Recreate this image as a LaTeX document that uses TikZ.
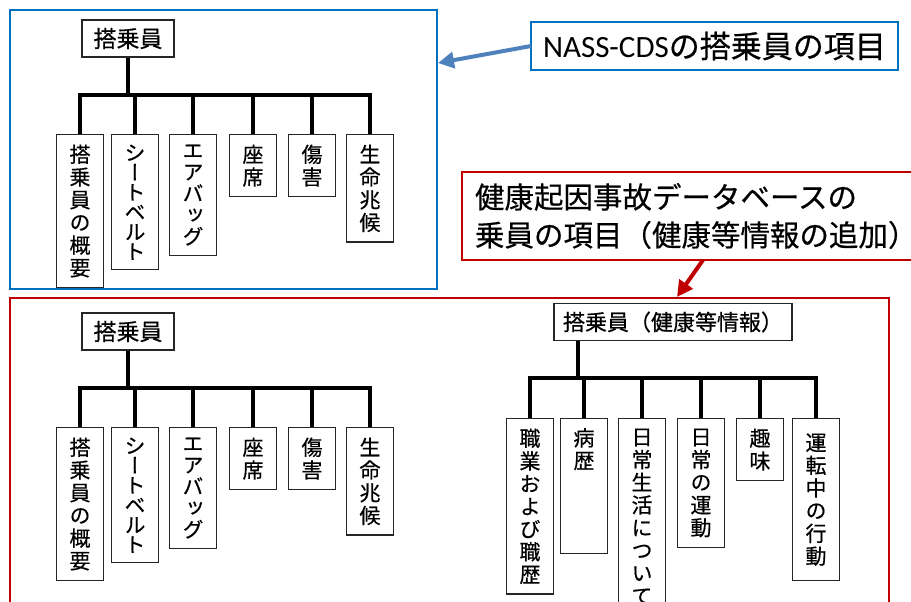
\documentclass[tikz,border=0pt]{standalone}
\usepackage{fontspec}
\setmainfont{Noto Sans CJK JP}[FakeBold=0.5]
\newfontfamily\jpvert{Noto Sans CJK JP}[RawFeature=+vert, FakeBold=0.5]
\newfontfamily\latfont{Carlito}
\usetikzlibrary{arrows.meta}
\definecolor{nassblue}{RGB}{0,112,192}
\definecolor{arrowblue}{RGB}{79,129,189}
\definecolor{dbred}{RGB}{192,0,0}

\begin{document}
\begin{tikzpicture}[x=1pt, y=-1pt]
    % ================= 样式定义 =================
    \tikzset{
        % 外框
        frame/.style={line width=2.5pt, outer sep=0pt},
        % 说明框
        callout/.style={draw, line width=2.5pt, outer sep=0pt, fill=white},
        % 根节点:横排文字
        rootbox/.style={draw=black!85, line width=1.2pt, minimum width=92pt, minimum height=37pt, inner xsep=4pt, font=\fontsize{23}{26}\selectfont},
        % 竖排文字
        leaftext/.style={align=center, inner xsep=0pt, inner ysep=10pt, font=\jpvert\fontsize{21}{22.7}\selectfont},
        % 叶节点:竖排的方框
        leaf/.style={leaftext, draw=black!85, line width=1.2pt, anchor=north, minimum width=47pt},
        % 片假名行距稍紧
        kana/.style={font=\jpvert\fontsize{21}{#1}\selectfont},
        % 树的连线
        branch/.style={line width=4pt, black},
        % 指示箭头
        pointer/.style={line width=4pt, -{Triangle[length=16pt, width=16pt]}}
    }

    \useasboundingbox (0,0) rectangle (911,602);
    \clip (0,0) rectangle (911,602);

    % ================= 外框 =================
    \node[frame, draw=nassblue, minimum width=427pt, minimum height=279pt, anchor=north west] (nassframe) at (10,10) {};
    \node[frame, draw=dbred, minimum width=879pt, minimum height=342pt, anchor=north west] (dbframe) at (10,298) {};

    % ================= 说明框与箭头 =================
    \node[callout, draw=nassblue, minimum width=367pt, minimum height=48pt, font=\fontsize{31}{38}\selectfont] (nasstitle) at (714.5,46) {{\latfont NASS-CDS}の搭乗員の項目};
    \coordinate (nasstip) at (438,63);
    \draw[pointer, arrowblue] (nasstitle.west) -- (nasstip);

    \node[callout, draw=dbred, align=left, anchor=north west, inner xsep=13pt, inner ysep=11pt, font=\fontsize{29.5}{38}\selectfont] (dbtitle) at (462,172) {健康起因事故データベースの\\乗員の項目（健康等情報の追加）};
    \coordinate (dbtip) at (677,297);
    \draw[pointer, dbred] (dbtitle.south -| 703,0) -- (dbtip);

    % ================= 第一部分:NASS-CDS (上) =================
    \begin{scope}
        \node[rootbox] (roota) at (128,38.5) {搭乗員};
        \coordinate (bara) at (128,95);

        \node[leaf] (a1) at (80,134) {搭\\乗\\員\\の\\概\\要};
        \node[leaf, kana=19.8] (a2) at (135,134) {シ\\ー\\ト\\ベ\\ル\\ト};
        \node[leaf, kana=21.5] (a3) at (193,134) {エ\\ア\\バ\\ッ\\グ};
        \node[leaf] (a4) at (253,134) {座\\席};
        \node[leaf] (a5) at (312,134) {傷\\害};
        \node[leaf] (a6) at (370,134) {生\\命\\兆\\候};

        % 连线
        \draw[branch] (roota) -- (bara);
        \draw[branch] (a1.north) |- (a6.north |- bara) -- (a6.north);
        \draw[branch] (a2.north |- bara) -- (a2.north);
        \draw[branch] (a3.north |- bara) -- (a3.north);
        \draw[branch] (a4.north |- bara) -- (a4.north);
        \draw[branch] (a5.north |- bara) -- (a5.north);
    \end{scope}

    % ================= 第二部分:数据库 (左下) =================
    \begin{scope}[shift={(0,293)}]
        \node[rootbox] (rootb) at (128,38.5) {搭乗員};
        \coordinate (barb) at (128,95);

        \node[leaf] (b1) at (80,134) {搭\\乗\\員\\の\\概\\要};
        \node[leaf, kana=19.8] (b2) at (135,134) {シ\\ー\\ト\\ベ\\ル\\ト};
        \node[leaf, kana=21.5] (b3) at (193,134) {エ\\ア\\バ\\ッ\\グ};
        \node[leaf] (b4) at (253,134) {座\\席};
        \node[leaf] (b5) at (312,134) {傷\\害};
        \node[leaf] (b6) at (370,134) {生\\命\\兆\\候};

        % 连线
        \draw[branch] (rootb) -- (barb);
        \draw[branch] (b1.north) |- (b6.north |- barb) -- (b6.north);
        \draw[branch] (b2.north |- barb) -- (b2.north);
        \draw[branch] (b3.north |- barb) -- (b3.north);
        \draw[branch] (b4.north |- barb) -- (b4.north);
        \draw[branch] (b5.north |- barb) -- (b5.north);
    \end{scope}

    % ================= 第三部分:健康等情报 (右下) =================
    \node[rootbox, minimum width=238pt, font=\fontsize{22}{26}\selectfont] (rootc) at (673,322) {搭乗員（健康等情報）};
    \coordinate (barc) at (578,378);

    \node[leaf] (c1) at (530,418) {職\\業\\お\\よ\\び\\職\\歴};
    \node[leaf, minimum height=135pt, label={[leaftext, anchor=north]north:{病\\歴}}] (c2) at (584,418) {};
    \node[leaf] (c3) at (642,418) {日\\常\\生\\活\\に\\つ\\い\\て};
    \node[leaf] (c4) at (701,418) {日\\常\\の\\運\\動};
    \node[leaf] (c5) at (760,418) {趣\\味};
    \node[leaf, minimum height=162pt] (c6) at (816,418) {運\\転\\中\\の\\行\\動};

    % 连线
    \draw[branch] (rootc.south -| barc) -- (barc);
    \draw[branch] (c1.north) |- (c6.north |- barc) -- (c6.north);
    \draw[branch] (c2.north |- barc) -- (c2.north);
    \draw[branch] (c3.north |- barc) -- (c3.north);
    \draw[branch] (c4.north |- barc) -- (c4.north);
    \draw[branch] (c5.north |- barc) -- (c5.north);

\end{tikzpicture}
\end{document}
